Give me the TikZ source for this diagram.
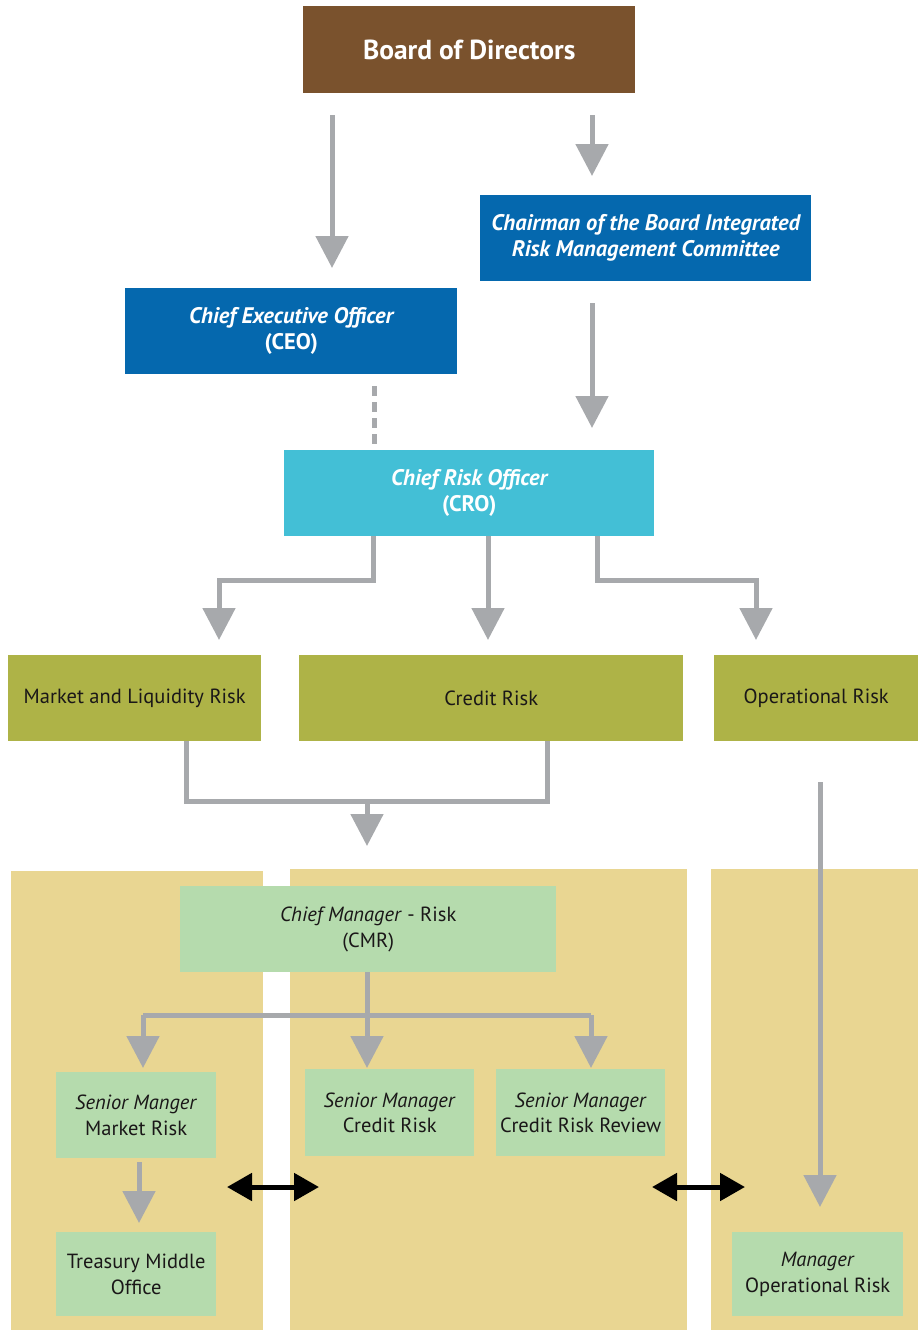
\documentclass[tikz,border=0pt]{standalone}
\usepackage{fontspec}
\setmainfont{PT Sans}
\usetikzlibrary{arrows.meta}
\definecolor{brownc}{HTML}{7A522D}
\definecolor{bluec}{HTML}{0568AE}
\definecolor{cyanc}{HTML}{43BFD6}
\definecolor{olivec}{HTML}{AEB347}
\definecolor{tanc}{HTML}{E9D692}
\definecolor{greenc}{HTML}{B5DBAD}
\definecolor{grayc}{HTML}{A7A9AC}
\definecolor{textc}{HTML}{1A1718}
\begin{document}
\begin{tikzpicture}[x=1pt,y=-1pt,
  box/.style={anchor=north west, inner sep=0pt, align=center, font=\fontsize{20.5}{25.5}\selectfont, text=textc},
  topbox/.style={box, text=white, font=\fontsize{22.5}{26}\selectfont\bfseries},
  gline/.style={draw=grayc, line width=5pt},
  garrow/.style={gline, -{Triangle[width=32pt,length=32pt]}},
  barrow/.style={draw=black, line width=5pt, {Triangle[width=27pt,length=25pt]}-{Triangle[width=27pt,length=25pt]}},
  dline/.style={draw=grayc, line width=5pt, dash pattern=on 10pt off 6pt}
]
\useasboundingbox (0,0) rectangle (918,1330);

% panels
\fill[tanc] (11,871) rectangle (263,1330);
\fill[tanc] (290,869) rectangle (687,1330);
\fill[tanc] (711,869) rectangle (918,1330);

% nodes
\node[topbox, fill=brownc, minimum width=332pt, minimum height=87pt, font=\fontsize{27.5}{30}\selectfont\bfseries] (board) at (303,6) {Board of Directors};
\node[topbox, fill=bluec, minimum width=331pt, minimum height=86pt] (chair) at (480,195) {\itshape Chairman of the Board Integrated\\\itshape Risk Management Committee};
\node[topbox, fill=bluec, minimum width=332pt, minimum height=86pt] (ceo) at (125,288) {\itshape Chief Executive Officer\\(CEO)};
\node[topbox, fill=cyanc, minimum width=370pt, minimum height=86pt] (cro) at (284,450) {\itshape Chief Risk Officer\\(CRO)};

\node[box, fill=olivec, minimum width=253pt, minimum height=86pt] (mlr) at (8,655) {Market and Liquidity Risk};
\node[box, fill=olivec, minimum width=384pt, minimum height=86pt] (cr) at (299,655) {Credit Risk};
\node[box, fill=olivec, minimum width=204pt, minimum height=86pt] (opr) at (714,655) {Operational Risk};

\node[box, fill=greenc, minimum width=376pt, minimum height=86pt] (cmr) at (180,886) {\textit{Chief Manager} - Risk\\(CMR)};
\node[box, fill=greenc, minimum width=160pt, minimum height=86pt] (smm) at (56,1072) {\textit{Senior Manger}\\Market Risk};
\node[box, fill=greenc, minimum width=169pt, minimum height=87pt] (smc) at (305,1069) {\textit{Senior Manager}\\Credit Risk};
\node[box, fill=greenc, minimum width=169pt, minimum height=87pt] (smr) at (496,1069) {\textit{Senior Manager}\\Credit Risk Review};
\node[box, fill=greenc, minimum width=160pt, minimum height=84pt] (tmo) at (56,1232) {Treasury Middle\\Office};
\node[box, fill=greenc, minimum width=171pt, minimum height=84pt] (mop) at (732,1232) {\textit{Manager}\\Operational Risk};

% helper coordinates
\coordinate (xa) at (332,0);
\coordinate (xb) at (592,0);
\coordinate (xd) at (374,0);
\coordinate (c1) at (373,580);
\coordinate (c1b) at (219,580);
\coordinate (c2) at (488,0);
\coordinate (c3) at (597,580);
\coordinate (c3b) at (756,580);
\coordinate (m1) at (186,801);
\coordinate (m2) at (547,801);
\coordinate (merge) at (367,801);
\coordinate (xo) at (820,0);
\coordinate (bar) at (367,1015);
\coordinate (barl) at (143,1015);
\coordinate (barr) at (591,1015);
\coordinate (xt) at (139,0);
\coordinate (dl1) at (227,1187);
\coordinate (dl2) at (319,1187);
\coordinate (dr1) at (652,1187);
\coordinate (dr2) at (745,1187);

% connectors
\draw[garrow, shorten <=22pt, shorten >=20pt] (board.south -| xa) -- (ceo.north -| xa);
\draw[garrow, shorten <=22pt, shorten >=19pt] (board.south -| xb) -- (chair.north -| xb);
\draw[garrow, shorten <=22pt, shorten >=22pt] (chair.south -| xb) -- (cro.north -| xb);
\draw[dline, shorten <=12pt, shorten >=6pt] (ceo.south -| xd) -- (cro.north -| xd);

\draw[garrow, shorten >=15pt] (cro.south -| c1) -- (c1) -- (c1b) -- (mlr.north -| c1b);
\draw[garrow, shorten >=15pt] (cro.south -| c2) -- (cr.north -| c2);
\draw[garrow, shorten >=15pt] (cro.south -| c3) -- (c3) -- (c3b) -- (opr.north -| c3b);

\draw[gline] (mlr.south -| m1) -- (m1) -- (m2) -- (cr.south -| m2);
\draw[garrow, shorten >=40pt] (merge) -- (cmr.north -| merge);
\draw[garrow, shorten <=41pt, shorten >=25pt] (opr.south -| xo) -- (mop.north -| xo);

\draw[garrow, shorten >=1pt] (cmr.south -| bar) -- (smc.north -| bar);
\draw[gline] (barl) -- (barr);
\draw[garrow, shorten >=4pt] (barl) -- (smm.north -| barl);
\draw[garrow, shorten >=1pt] (barr) -- (smr.north -| barr);
\draw[garrow, shorten <=4pt, shorten >=9pt] (smm.south -| xt) -- (tmo.north -| xt);

\draw[barrow] (dl1) -- (dl2);
\draw[barrow] (dr1) -- (dr2);
\end{tikzpicture}
\end{document}
